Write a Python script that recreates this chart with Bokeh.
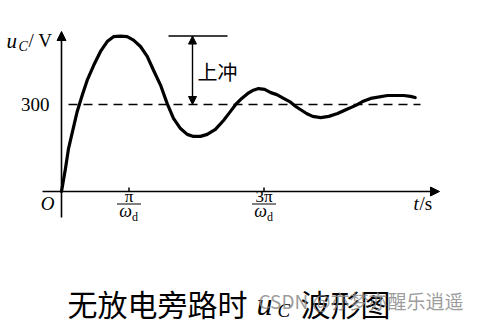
from bokeh.plotting import figure
from bokeh.models import ColumnDataSource, Arrow, NormalHead, Range1d
from bokeh.core.properties import value
from bokeh.embed import file_html
from bokeh.resources import INLINE

# ---- data ----
# time in units of pi/omega_d, voltage in V
t_vals = [0, 0.059, 0.104, 0.173, 0.233, 0.307, 0.381, 0.479, 0.578, 0.677, 0.770,
          0.874, 0.973, 1.067, 1.170, 1.270, 1.363, 1.467, 1.566, 1.659, 1.763,
          1.862, 1.956, 2.059, 2.159, 2.28, 2.40, 2.49, 2.58, 2.67, 2.76, 2.83,
          2.92, 3.01, 3.10, 3.19, 3.29, 3.38, 3.47, 3.63, 3.72, 3.84, 3.96, 4.09,
          4.22, 4.36, 4.46, 4.58, 4.83, 4.95, 5.07, 5.17, 5.24]
u_vals = [0, 79, 148, 217, 276, 332, 384, 436, 483, 517, 534,
          536, 534, 522, 500, 466, 418, 367, 303, 252, 217,
          197, 190, 190, 197, 214, 245, 272, 300, 321, 338, 348,
          355, 352, 341, 334, 321, 310, 293, 269, 259, 255, 259, 269,
          283, 297, 310, 321, 331, 331, 331, 328, 324]
steady_value = 300
steady_label = "300"
tick_positions = [1, 3]
tick_numerators = ["π", "3π"]
title_left = "无放电旁路时"
title_right = "波形图"
watermark = "CSDN @亦梦亦醒乐逍遥"
overshoot_label = "上冲"

W, H = 484, 323

# layout helpers: pixel position -> data position
def X(px):
    return (px - 61) / 67.5

def Y(py):
    return (191 - py) / 0.29

p = figure(width=W, height=H, output_backend="svg", toolbar_location=None,
           min_border=0, x_range=Range1d(X(0), X(W)), y_range=Range1d(Y(H), Y(0)))
p.xaxis.visible = False
p.yaxis.visible = False
p.grid.visible = False
p.outline_line_color = None
p.background_fill_color = "white"
p.border_fill_color = "white"

SERIF = value("Liberation Serif")
CJK = value("Noto Sans CJK SC")

def txt(px, py, s, size, font=SERIF, style="normal", align="left", color="black", alpha=1.0):
    p.text(x=[X(px)], y=[Y(py)], text=[s], text_font=font, text_font_style=style,
           text_font_size=f"{size}px", text_baseline="middle", text_align=align,
           text_color=color, text_alpha=alpha)

# steady-state dashed line
p.line(x=[X(68), X(420)], y=[steady_value, steady_value], line_color="black",
       line_width=1.6, line_dash="9 6")

# waveform
src = ColumnDataSource(dict(t=t_vals, u=u_vals))
p.line(x="t", y="u", source=src, line_color="black", line_width=3.2,
       line_join="round", line_cap="round")

# axes with arrows
p.add_layout(Arrow(x_start=X(42), y_start=0, x_end=X(439), y_end=0,
                   line_color="black", line_width=1.6,
                   end=NormalHead(size=9, fill_color="black", line_color="black")))
p.add_layout(Arrow(x_start=0, y_start=Y(217), x_end=0, y_end=Y(31),
                   line_color="black", line_width=1.6,
                   end=NormalHead(size=9, fill_color="black", line_color="black")))

# tick marks
n = len(tick_positions)
p.segment(x0=tick_positions, y0=[0] * n, x1=tick_positions,
          y1=[Y(187)] * n, line_color="black", line_width=1.5)

# overshoot marker
peak = max(u_vals)
p.segment(x0=[X(168)], y0=[peak], x1=[X(227)], y1=[peak], line_color="black", line_width=1.6)
p.add_layout(Arrow(x_start=X(192), y_start=peak, x_end=X(192), y_end=steady_value,
                   line_color="black", line_width=1.4,
                   start=NormalHead(size=8, fill_color="black", line_color="black"),
                   end=NormalHead(size=8, fill_color="black", line_color="black")))
txt(197, 71, overshoot_label, 20, font=CJK)

# y labels
txt(49, 104, steady_label, 19, align="right")
txt(6, 40, "u", 21, style="italic")
txt(18, 46, "C", 14, style="italic")
txt(28, 40, "/ V", 19)

# origin, x-axis label
txt(47, 203, "O", 19, style="italic", align="center")
txt(413, 203, "t", 19, style="italic")
txt(419, 203, "/s", 19)

# tick labels as fractions
p.text(x=tick_positions, y=[Y(196)] * n, text=tick_numerators, text_font=SERIF,
       text_font_size="17px", text_baseline="middle", text_align="center", text_color="black")
p.segment(x0=[t - 12 / 67.5 for t in tick_positions], y0=[Y(203.5)] * n,
          x1=[t + 12 / 67.5 for t in tick_positions], y1=[Y(203.5)] * n,
          line_color="black", line_width=1.2)
p.text(x=tick_positions, y=[Y(210)] * n, text=["ω"] * n, text_font=SERIF, text_font_style="italic",
       text_font_size="18px", text_baseline="middle", text_align="right", text_color="black",
       x_offset=3)
p.text(x=tick_positions, y=[Y(216)] * n, text=["d"] * n, text_font=SERIF,
       text_font_size="12px", text_baseline="middle", text_align="left", text_color="black",
       x_offset=3)

# caption
txt(67, 302, title_left, 30, font=CJK)
txt(256, 303, "u", 32, style="italic")
txt(277, 310, "C", 19, style="italic")
txt(300, 302, title_right, 30, font=CJK)

# watermark
txt(258, 300, watermark, 19, font=CJK, color="#8a8a8a", alpha=0.85)

open("out.html", "w").write(file_html(p, INLINE))
